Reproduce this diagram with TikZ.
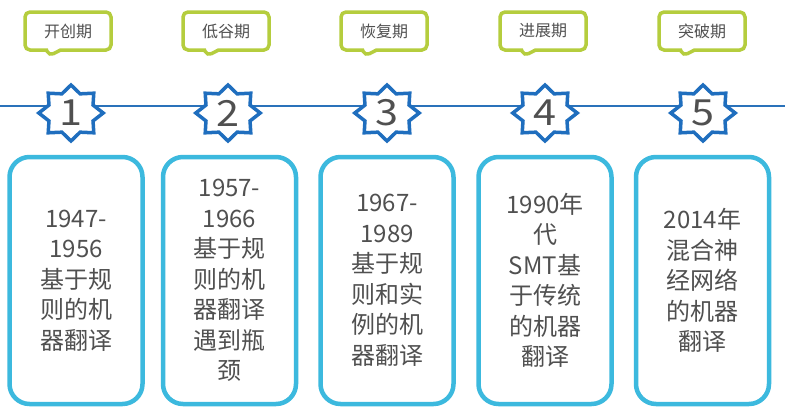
\documentclass[tikz,border=0pt]{standalone}
\usepackage{fontspec}
\setmainfont{Noto Sans CJK SC}
\usepackage{xcolor}
\usetikzlibrary{shapes.geometric,shapes.callouts}
\definecolor{phasegreen}{HTML}{B5CD3E}
\definecolor{stardark}{HTML}{1F6EBE}
\definecolor{lineblue}{HTML}{2A72BA}
\definecolor{cardblue}{HTML}{3CB9DE}
\definecolor{textgray}{HTML}{505050}

\begin{document}
\begin{tikzpicture}[x=1pt,y=-1pt,
			phase/.style = {draw=phasegreen, line width=3.5pt, fill=white, shape=rectangle callout,
				rounded corners=5pt, minimum width=86pt, minimum height=38pt,
				callout absolute pointer={#1}, callout pointer width=14pt,
				text=textgray, font=\fontsize{16}{18}\selectfont},
			numstar/.style = {draw=stardark, line width=3.5pt, fill=white, shape=star, star points=8,
				star point ratio=1.35, minimum size=56pt, inner sep=0pt, xscale=1.15, transform shape,
				text=textgray, font=\fontsize{36}{36}\selectfont},
			card/.style = {draw=cardblue, line width=4.5pt, fill=white, rounded corners=20pt,
				minimum width=133pt, minimum height=247pt, text width=122pt, align=center,
				text=textgray, font=\fontsize{24}{30.5}\selectfont}
			]
			\fill[white] (0,0) rectangle (785,418);
			\useasboundingbox (0,0) rectangle (785,418);
			\node [phase={(49,56)}] (phase1) at (68,31) {开创期};
			\node [phase={(207,56)}] (phase2) at (226,31) {低谷期};
			\node [phase={(365,56)}] (phase3) at (384,31) {恢复期};
			\node [phase={(524,56)}] (phase4) at (543,31) {进展期};
			\node [phase={(683,56)}] (phase5) at (702,31) {突破期};
			\coordinate (lineL) at (0,106);
			\coordinate (lineR) at (785,106);
			\draw[lineblue, line width=2.5pt] (lineL) -- (lineR);
			\node [numstar] (star1) at (71,113) {1};
			\node [numstar] (star2) at (228,113) {2};
			\node [numstar] (star3) at (387,113) {3};
			\node [numstar] (star4) at (545,113) {4};
			\node [numstar] (star5) at (703,113) {5};
			\node [card] (card1) at (76,280.5) {1947-\\1956\\基于规\\则的机\\器翻译};
			\node [card] (card2) at (229.5,280.5) {1957-\\1966\\基于规\\则的机\\器翻译\\遇到瓶\\颈};
			\node [card] (card3) at (387,280.5) {1967-\\1989\\基于规\\则和实\\例的机\\器翻译};
			\node [card] (card4) at (545,280.5) {1990年\\代\\SMT基\\于传统\\的机器\\翻译};
			\node [card] (card5) at (702.5,280.5) {2014年\\混合神\\经网络\\的机器\\翻译};
		\end{tikzpicture}
\end{document}
